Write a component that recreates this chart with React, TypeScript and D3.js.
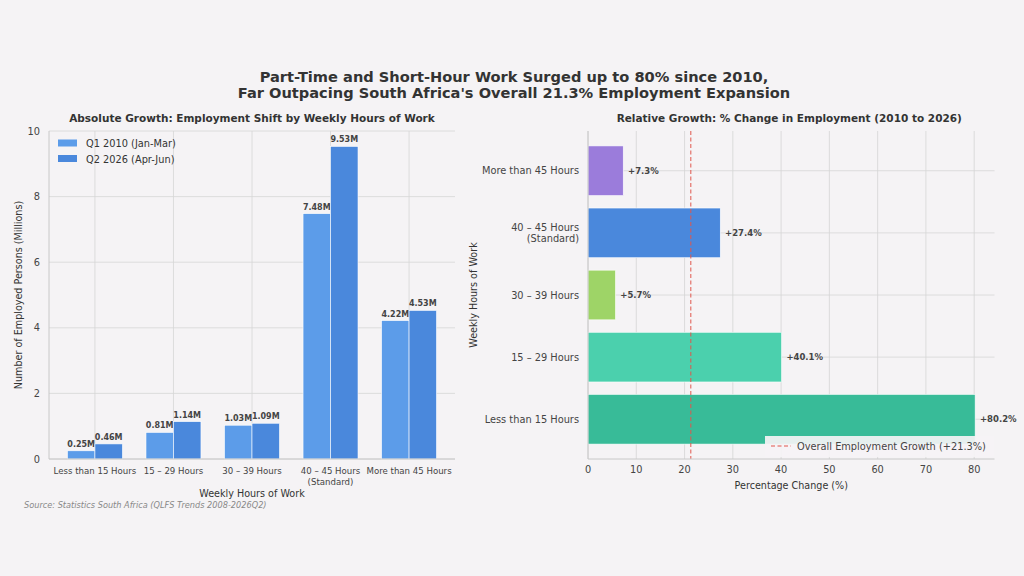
import React from 'react';
import * as d3 from 'd3';

// weekly hours bands (left-to-right on the left chart, bottom-to-top on the right chart)
const categories = ['Less than 15 Hours', '15 – 29 Hours', '30 – 39 Hours', '40 – 45 Hours\n(Standard)', 'More than 45 Hours'];
const q1_2010 = [0.25, 0.81, 1.03, 7.48, 4.22];
const q2_2026 = [0.46, 1.14, 1.09, 9.53, 4.53];
const pctChange = [80.2, 40.1, 5.7, 27.4, 7.3];
const overallGrowth = 21.3;
const seriesNames = ['Q1 2010 (Jan-Mar)', 'Q2 2026 (Apr-Jun)'];
const yTicksLeft = [0, 2, 4, 6, 8, 10];
const xTicksRight = [0, 10, 20, 30, 40, 50, 60, 70, 80];

const BG = '#f5f3f5';
const GRID = '#d6d5d6';
const SPINE = '#c8c8c8';
const TXT = '#444444';
const TITLE = '#333333';
const seriesColors = ['#5c9ce9', '#4a88dc'];
const pctColors = ['#38bb98', '#4bd0ad', '#9ed467', '#4a88dc', '#9b7cdb'];
const FONT = '"DejaVu Sans", sans-serif';

const lines = (s: string) => s.split('\n');

const App: React.FC = () => {
  // left panel frame
  const L = { x0: 49, x1: 455, top: 131, bottom: 459 };
  const xL = d3.scaleLinear().domain([-0.585, 4.585]).range([L.x0, L.x1]);
  const yL = d3.scaleLinear().domain([0, 10]).range([L.bottom, L.top]);
  const bw = 0.35;

  // right panel frame
  const R = { x0: 588, x1: 994.5, top: 131, bottom: 459 };
  const xR = d3.scaleLinear().domain([0, 84.21]).range([R.x0, R.x1]);
  const yR = d3.scaleLinear().domain([-0.64, 4.64]).range([R.bottom, R.top]);
  const bh = 0.8;

  return (
    <svg width={1024} height={576} style={{ position: 'absolute', left: 0, top: 0, background: BG }} fontFamily={FONT}>
      <rect x={0} y={0} width={1024} height={576} fill={BG} />

      {/* main title */}
      <text x={514} y={82} textAnchor="middle" fontSize={14.6} fontWeight="bold" fill={TITLE}>
        Part-Time and Short-Hour Work Surged up to 80% since 2010,
      </text>
      <text x={514} y={98} textAnchor="middle" fontSize={14.6} fontWeight="bold" fill={TITLE}>
        Far Outpacing South Africa's Overall 21.3% Employment Expansion
      </text>

      {/* ---------- left: absolute growth ---------- */}
      <text x={(L.x0 + L.x1) / 2} y={122} textAnchor="middle" fontSize={10.5} fontWeight="bold" fill={TITLE}>
        Absolute Growth: Employment Shift by Weekly Hours of Work
      </text>
      {/* grid */}
      {yTicksLeft.map((t) => (
        <line key={'gy' + t} x1={L.x0} x2={L.x1} y1={yL(t)} y2={yL(t)} stroke={GRID} strokeWidth={0.8} />
      ))}
      {categories.map((c, i) => (
        <line key={'gx' + i} x1={xL(i)} x2={xL(i)} y1={L.top} y2={L.bottom} stroke={GRID} strokeWidth={0.8} />
      ))}
      {/* bars */}
      {categories.map((c, i) => (
        <g key={'b' + i}>
          {[q1_2010[i], q2_2026[i]].map((v, s) => {
            const x = xL(i - bw + s * bw);
            const w = xL(bw) - xL(0);
            return (
              <g key={s}>
                <rect x={x} y={yL(v)} width={w} height={yL(0) - yL(v)} fill={seriesColors[s]} stroke="#ffffff" strokeWidth={0.6} />
                <text x={x + w / 2} y={yL(v) - 4} textAnchor="middle" fontSize={8} fontWeight="bold" fill={TXT}>
                  {v.toFixed(2)}M
                </text>
              </g>
            );
          })}
        </g>
      ))}
      {/* spines */}
      <line x1={L.x0} x2={L.x0} y1={L.top} y2={L.bottom} stroke={SPINE} strokeWidth={1} />
      <line x1={L.x0} x2={L.x1} y1={L.bottom} y2={L.bottom} stroke={SPINE} strokeWidth={1} />
      {/* y ticks */}
      {yTicksLeft.map((t) => (
        <text key={'ty' + t} x={L.x0 - 9} y={yL(t) + 3.5} textAnchor="end" fontSize={9.8} fill={TXT}>{t}</text>
      ))}
      {/* x ticks */}
      {categories.map((c, i) => (
        <text key={'tx' + i} x={xL(i)} y={L.bottom + 15} textAnchor="middle" fontSize={8.6} fill={TXT}>
          {lines(c).map((ln, k) => (
            <tspan key={k} x={xL(i)} dy={k === 0 ? 0 : 10.5}>{ln}</tspan>
          ))}
        </text>
      ))}
      <text x={(L.x0 + L.x1) / 2} y={497} textAnchor="middle" fontSize={9.6} fill={TITLE}>Weekly Hours of Work</text>
      <text transform={`translate(22,${(L.top + L.bottom) / 2}) rotate(-90)`} textAnchor="middle" fontSize={9.6} fill={TITLE}>
        Number of Employed Persons (Millions)
      </text>
      {/* legend */}
      {seriesNames.map((n, s) => (
        <g key={'lg' + s}>
          <rect x={58} y={139.5 + s * 15.5} width={19} height={7} fill={seriesColors[s]} />
          <text x={86} y={147 + s * 15.5} fontSize={9.8} fill={TITLE}>{n}</text>
        </g>
      ))}
      <text x={24} y={508} fontSize={8.2} fontStyle="italic" fill="#888888">
        Source: Statistics South Africa (QLFS Trends 2008-2026Q2)
      </text>

      {/* ---------- right: relative growth ---------- */}
      <text x={(R.x0 + R.x1) / 2 - 2} y={122} textAnchor="middle" fontSize={10.5} fontWeight="bold" fill={TITLE}>
        Relative Growth: % Change in Employment (2010 to 2026)
      </text>
      {xTicksRight.map((t) => (
        <line key={'rgx' + t} x1={xR(t)} x2={xR(t)} y1={R.top} y2={R.bottom} stroke={GRID} strokeWidth={0.8} />
      ))}
      {categories.map((c, i) => (
        <line key={'rgy' + i} x1={R.x0} x2={R.x1} y1={yR(i)} y2={yR(i)} stroke={GRID} strokeWidth={0.8} />
      ))}
      {pctChange.map((v, i) => (
        <g key={'rb' + i}>
          <rect x={xR(0)} y={yR(i + bh / 2)} width={xR(v) - xR(0)} height={yR(i - bh / 2) - yR(i + bh / 2)}
            fill={pctColors[i]} stroke="#ffffff" strokeWidth={0.6} />
          <text x={xR(v + 1)} y={yR(i) + 3} fontSize={8.5} fontWeight="bold" fill={TXT}>+{v.toFixed(1)}%</text>
        </g>
      ))}
      <line x1={xR(overallGrowth)} x2={xR(overallGrowth)} y1={R.top} y2={R.bottom} stroke="#e0564c" strokeWidth={1} strokeDasharray="4,2.5" />
      <line x1={R.x0} x2={R.x0} y1={R.top} y2={R.bottom} stroke={SPINE} strokeWidth={1} />
      <line x1={R.x0} x2={R.x1} y1={R.bottom} y2={R.bottom} stroke={SPINE} strokeWidth={1} />
      {xTicksRight.map((t) => (
        <text key={'rtx' + t} x={xR(t)} y={R.bottom + 14} textAnchor="middle" fontSize={9.8} fill={TXT}>{t}</text>
      ))}
      {categories.map((c, i) => {
        const ls = lines(c);
        return (
          <text key={'rty' + i} x={R.x0 - 9} y={yR(i) + 3.5 - (ls.length - 1) * 5.5} textAnchor="end" fontSize={9.8} fill={TXT}>
            {ls.map((ln, k) => (
              <tspan key={k} x={R.x0 - 9} dy={k === 0 ? 0 : 11}>{ln}</tspan>
            ))}
          </text>
        );
      })}
      <text x={(R.x0 + R.x1) / 2} y={489} textAnchor="middle" fontSize={9.6} fill={TITLE}>Percentage Change (%)</text>
      <text transform={`translate(477,${(R.top + R.bottom) / 2}) rotate(-90)`} textAnchor="middle" fontSize={9.6} fill={TITLE}>
        Weekly Hours of Work
      </text>
      {/* legend */}
      <rect x={765} y={436} width={229} height={21} fill={BG} opacity={0.92} />
      <line x1={771} x2={791} y1={446} y2={446} stroke="#e0564c" strokeWidth={1} strokeDasharray="4,2.5" />
      <text x={797} y={449.5} fontSize={9.8} fill={TXT}>Overall Employment Growth (+21.3%)</text>
    </svg>
  );
};

export default App;
